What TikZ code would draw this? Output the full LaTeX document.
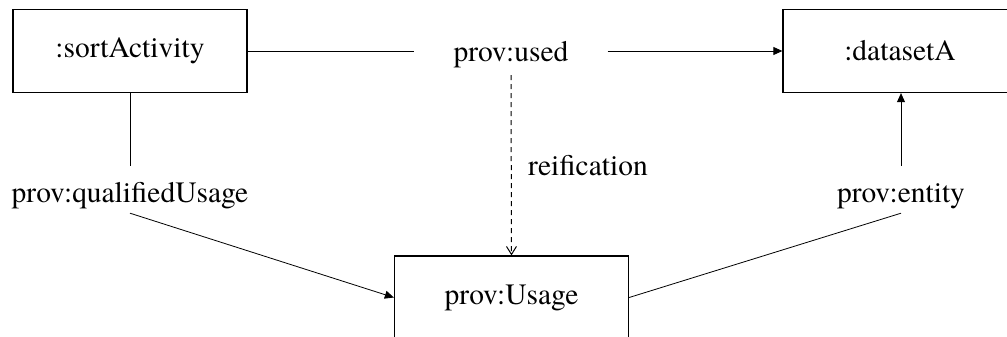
\documentclass[tikz,border=0pt]{standalone}
\usepackage{fontspec}
\setmainfont{texgyretermes}[Extension=.otf, UprightFont=*-regular]
\usetikzlibrary{arrows.meta}
\begin{document}
\begin{tikzpicture}[x=1pt,y=-1pt,
  every node/.style={font=\rmfamily\fontsize{29.5}{35}\selectfont},
  boxnode/.style={draw, line width=1.3pt, minimum width=234pt, minimum height=83pt, inner sep=0pt},
  conn/.style={line width=0.8pt},
  filledtip/.style={-{Triangle[length=9pt,width=8pt]}},
  opentip/.style={-{Straight Barb[length=8pt,width=10pt,line width=1pt]}}
]
\useasboundingbox (0,0) rectangle (1007,337);
\node[boxnode] (sa) at (130,51) {:sortActivity};
\node[boxnode] (da) at (900,51) {:datasetA};
\node[boxnode] (us) at (511.5,297.5) {prov:Usage};
\node[anchor=base, inner xsep=39pt, inner ysep=7pt, text height=28pt, text depth=6pt] (used) at (511,62) {prov:used};
\node[anchor=base, inner xsep=0pt, inner ysep=5pt, text height=31pt, text depth=6pt] (qu) at (130,202) {prov:qualifiedUsage};
\node[anchor=base, inner xsep=0pt, inner ysep=5pt, text height=31pt, text depth=6pt] (en) at (901,202) {prov:entity};
\node[anchor=base west, inner sep=0pt] (re) at (528,175) {reification};
\draw[conn] (sa.east) -- (used.west);
\draw[conn, filledtip] (used.east) -- (da.west);
\draw[line width=1pt, dash pattern=on 5pt off 4pt, opentip] (used.south) -- (us.north);
\draw[conn] (sa.south) -- (qu.north);
\draw[conn, filledtip] (qu.south) -- (us.west);
\draw[conn, filledtip] (en.north) -- (da.south -| en.north);
\draw[conn] (en.south) -- (us.east);
\end{tikzpicture}
\end{document}
